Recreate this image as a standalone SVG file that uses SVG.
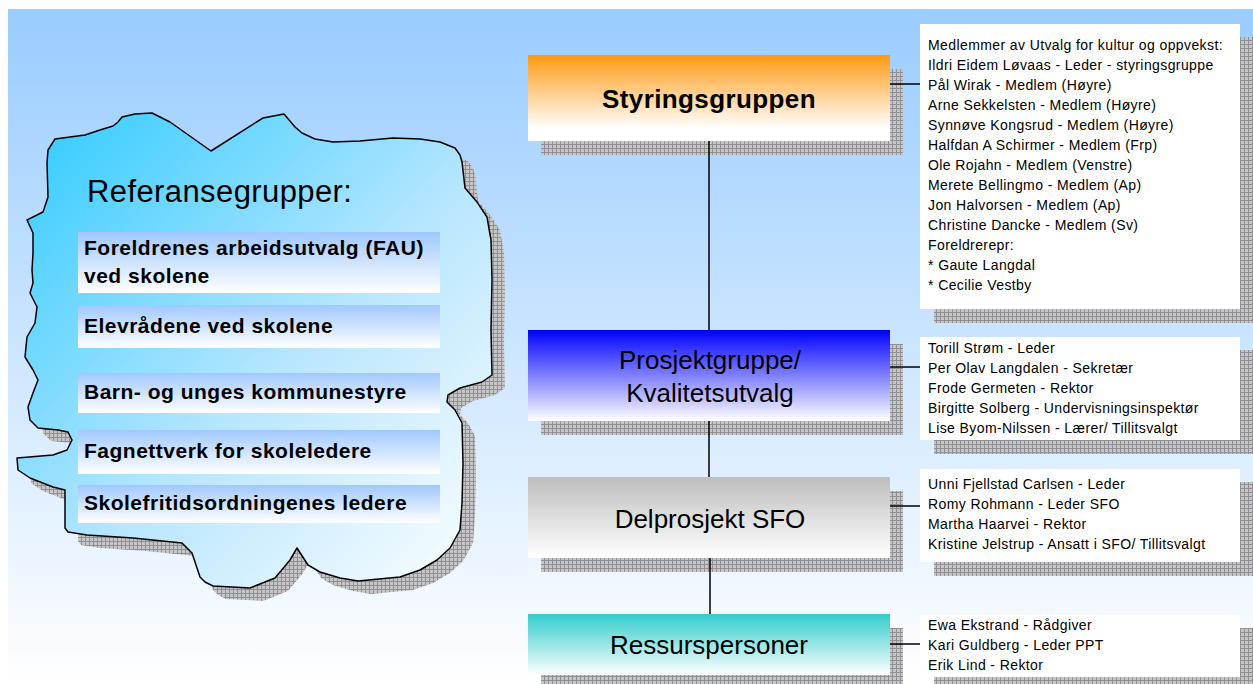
<svg xmlns="http://www.w3.org/2000/svg" width="1253" height="684" viewBox="0 0 1253 684">
<style>
.shadow{fill:url(#grid)}
.lbl{font-family:"Liberation Sans",Arial,sans-serif;fill:#000}
.big{font-size:26px;text-anchor:middle}
.ref{font-size:21px;font-weight:bold;letter-spacing:0.5px}
.mem{font-size:14px;letter-spacing:0.4px}
.tbox{fill:#FFFFFF}
.conn{stroke:#000;stroke-width:1.5;fill:none}
</style>
<defs>
<pattern id="grid" width="4" height="4" patternUnits="userSpaceOnUse">
<rect width="4" height="4" fill="#C6C6C8"/>
<path d="M0 0.5H4M0.5 0V4" stroke="#909094" stroke-width="1"/>
</pattern>
<linearGradient id="bg" x1="0" y1="0" x2="0" y2="1">
<stop offset="0" stop-color="#99CCFF"/>
<stop offset="1" stop-color="#FFFFFF"/>
</linearGradient>
<linearGradient id="cloudG" x1="0" y1="0" x2="1" y2="1">
<stop offset="0" stop-color="#2CCBFF"/>
<stop offset="0.55" stop-color="#B8E6FF"/>
<stop offset="1" stop-color="#FFFFFF"/>
</linearGradient>
<linearGradient id="refG" x1="0" y1="0" x2="0" y2="1">
<stop offset="0" stop-color="#A0C8FF"/>
<stop offset="1" stop-color="#FFFFFF"/>
</linearGradient>
<linearGradient id="orangeG" x1="0" y1="0" x2="0" y2="1">
<stop offset="0" stop-color="#FF9912"/>
<stop offset="0.85" stop-color="#FFFFFF"/>
</linearGradient>
<linearGradient id="blueG" x1="0" y1="0" x2="0" y2="1">
<stop offset="0" stop-color="#0000FF"/>
<stop offset="1" stop-color="#FFFFFF"/>
</linearGradient>
<linearGradient id="grayG" x1="0" y1="0" x2="0" y2="1">
<stop offset="0" stop-color="#BEBEBE"/>
<stop offset="1" stop-color="#FFFFFF"/>
</linearGradient>
<linearGradient id="tealG" x1="0" y1="0" x2="0" y2="1">
<stop offset="0" stop-color="#33CCCC"/>
<stop offset="1" stop-color="#FFFFFF"/>
</linearGradient>
<path id="cloudPath" d="M55 139 L70 137 L85 135 L100 130 L113 126 L118 122 L122 117 L135 114 L152 113 L170 122 L211 151 L263 118 L284 114 L295 127 L302 133 L315 139 L333 142 L360 141 L393 138 L420 139 L440 142 L455 148 L460 155 L462 162 L465 188 L477 202 L487 217 L491 240 L492 280 L491 330 L492 375 L482 382 L460 388 L448 395 L447 402 L455 410 L462 423 L463 463 L462 503 L460 530 L450 548 L437 560 L420 570 L400 577 L358 581 L340 578 L320 572 L308 565 L297 548 L290 560 L275 578 L250 588 L213 586 L205 582 L200 577 L196 565 L192 553 L182 543 L133 538 L87 535 L68 532 L65 528 L65 490 L53 487 L30 478 L18 470 L17 458 L53 455 L67 450 L72 440 L68 432 L58 430 L38 428 L30 420 L28 407 L33 393 L38 380 L33 370 L25 357 L27 337 L35 323 L37 307 L30 293 L33 283 L32 270 L33 253 L33 233 L27 220 L43 212 L48 197 L47 163 L48 150 Z"/>
</defs>

<rect id="background" x="8" y="9" width="1245" height="675" fill="url(#bg)"/>

<g id="referansegrupper">
<use href="#cloudPath" class="shadow" transform="translate(13,13)"/>
<use href="#cloudPath" fill="url(#cloudG)" stroke="#000" stroke-width="1.5" stroke-linejoin="round"/>
<text class="lbl" x="87" y="202" font-size="31" letter-spacing="0.4">Referansegrupper:</text>
<g id="ref-fau">
<rect x="78" y="232" width="362" height="61" fill="url(#refG)"/>
<text class="lbl ref" x="84" y="255">Foreldrenes arbeidsutvalg (FAU)</text>
<text class="lbl ref" x="84" y="283">ved skolene</text>
</g>
<g id="ref-elev">
<rect x="78" y="305" width="362" height="43" fill="url(#refG)"/>
<text class="lbl ref" x="84" y="333">Elevrådene ved skolene</text>
</g>
<g id="ref-barn">
<rect x="78" y="373" width="362" height="40" fill="url(#refG)"/>
<text class="lbl ref" x="84" y="399">Barn- og unges kommunestyre</text>
</g>
<g id="ref-fag">
<rect x="78" y="430" width="362" height="44" fill="url(#refG)"/>
<text class="lbl ref" x="84" y="458">Fagnettverk for skoleledere</text>
</g>
<g id="ref-sfo">
<rect x="78" y="485" width="362" height="38" fill="url(#refG)"/>
<text class="lbl ref" x="84" y="510">Skolefritidsordningenes ledere</text>
</g>
</g>

<g id="shadows">
<rect class="shadow" x="541" y="69" width="362" height="86"/>
<rect class="shadow" x="541" y="344" width="362" height="91"/>
<rect class="shadow" x="541" y="491" width="362" height="81"/>
<rect class="shadow" x="541" y="628" width="362" height="61"/>
<rect class="shadow" x="934" y="37" width="320" height="286"/>
<rect class="shadow" x="934" y="350" width="320" height="104"/>
<rect class="shadow" x="934" y="482" width="320" height="94"/>
<rect class="shadow" x="934" y="628" width="320" height="62"/>
</g>

<g id="connectors">
<line class="conn" x1="709" y1="141" x2="709" y2="330"/>
<line class="conn" x1="709" y1="421" x2="709" y2="477"/>
<line class="conn" x1="710" y1="558" x2="710" y2="614"/>
<line class="conn" x1="890" y1="84" x2="920" y2="84"/>
<line class="conn" x1="890" y1="367" x2="920" y2="367"/>
<line class="conn" x1="890" y1="506" x2="920" y2="506"/>
<line class="conn" x1="890" y1="644" x2="920" y2="644"/>
</g>

<g id="styringsgruppen">
<rect x="528" y="55" width="362" height="86" fill="url(#orangeG)"/>
<text class="lbl" x="709" y="108" font-size="26" font-weight="bold" text-anchor="middle" letter-spacing="0.4">Styringsgruppen</text>
</g>

<g id="prosjektgruppe">
<rect x="528" y="330" width="362" height="91" fill="url(#blueG)"/>
<text class="lbl big" x="710" y="369">Prosjektgruppe/</text>
<text class="lbl big" x="710" y="402">Kvalitetsutvalg</text>
</g>

<g id="delprosjekt">
<rect x="528" y="477" width="362" height="81" fill="url(#grayG)"/>
<text class="lbl big" x="710" y="528">Delprosjekt SFO</text>
</g>

<g id="ressurspersoner">
<rect x="528" y="614" width="362" height="61" fill="url(#tealG)"/>
<text class="lbl big" x="709" y="654">Ressurspersoner</text>
</g>

<g id="medlemmer-styring">
<rect class="tbox" x="920" y="24" width="320" height="285"/>
<text class="lbl mem" x="928" y="50" letter-spacing="0.7">Medlemmer av Utvalg for kultur og oppvekst:</text>
<text class="lbl mem" x="928" y="70">Ildri Eidem Løvaas - Leder - styringsgruppe</text>
<text class="lbl mem" x="928" y="90">Pål Wirak - Medlem (Høyre)</text>
<text class="lbl mem" x="928" y="110">Arne Sekkelsten - Medlem (Høyre)</text>
<text class="lbl mem" x="928" y="130">Synnøve Kongsrud - Medlem (Høyre)</text>
<text class="lbl mem" x="928" y="150">Halfdan A Schirmer - Medlem (Frp)</text>
<text class="lbl mem" x="928" y="170">Ole Rojahn - Medlem (Venstre)</text>
<text class="lbl mem" x="928" y="190">Merete Bellingmo - Medlem (Ap)</text>
<text class="lbl mem" x="928" y="210">Jon Halvorsen - Medlem (Ap)</text>
<text class="lbl mem" x="928" y="230">Christine Dancke  - Medlem (Sv)</text>
<text class="lbl mem" x="928" y="250">Foreldrerepr:</text>
<text class="lbl mem" x="928" y="270">* Gaute Langdal</text>
<text class="lbl mem" x="928" y="290">* Cecilie Vestby</text>
</g>

<g id="medlemmer-prosjekt">
<rect class="tbox" x="920" y="337" width="320" height="103"/>
<text class="lbl mem" x="928" y="353">Torill Strøm - Leder</text>
<text class="lbl mem" x="928" y="373">Per Olav Langdalen - Sekretær</text>
<text class="lbl mem" x="928" y="393">Frode Germeten - Rektor</text>
<text class="lbl mem" x="928" y="413">Birgitte Solberg - Undervisningsinspektør</text>
<text class="lbl mem" x="928" y="433">Lise Byom-Nilssen - Lærer/ Tillitsvalgt</text>
</g>

<g id="medlemmer-sfo">
<rect class="tbox" x="920" y="469" width="320" height="93"/>
<text class="lbl mem" x="928" y="489">Unni Fjellstad Carlsen - Leder</text>
<text class="lbl mem" x="928" y="509">Romy Rohmann - Leder SFO</text>
<text class="lbl mem" x="928" y="529">Martha Haarvei - Rektor</text>
<text class="lbl mem" x="928" y="549">Kristine Jelstrup - Ansatt i SFO/ Tillitsvalgt</text>
</g>

<g id="medlemmer-ressurs">
<rect class="tbox" x="920" y="615" width="320" height="62"/>
<text class="lbl mem" x="928" y="630">Ewa Ekstrand  - Rådgiver</text>
<text class="lbl mem" x="928" y="650">Kari Guldberg - Leder PPT</text>
<text class="lbl mem" x="928" y="670">Erik Lind - Rektor</text>
</g>
</svg>
